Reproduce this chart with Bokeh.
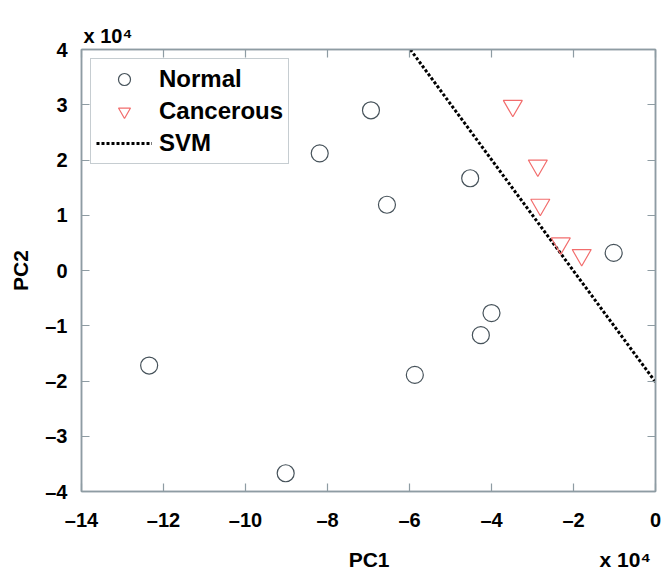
from bokeh.plotting import figure
from bokeh.models import Range1d, LinearAxis, FixedTicker, Legend, LegendItem
from bokeh.embed import file_html
from bokeh.resources import INLINE

# Data (units of 10^4)
normal_pc1 = [-6.94, -8.19, -6.55, -4.52, -1.02, -4.00, -4.26, -5.87, -12.35, -9.02]
normal_pc2 = [2.90, 2.12, 1.19, 1.67, 0.32, -0.77, -1.17, -1.89, -1.72, -3.67]
cancer_pc1 = [-3.48, -2.87, -2.81, -2.31, -1.80]
cancer_pc2 = [2.98, 1.90, 1.19, 0.49, 0.28]
svm_pc1 = [-5.98, 0.0]
svm_pc2 = [4.0, -2.02]
x_ticks = [-14, -12, -10, -8, -6, -4, -2, 0]
y_ticks = [-4, -3, -2, -1, 0, 1, 2, 3, 4]
x_tick_labels = ["\u201314", "\u201312", "\u201310", "\u20138", "\u20136", "\u20134", "\u20132", "0"]
y_tick_labels = ["\u20134", "\u20133", "\u20132", "\u20131", "0", "1", "2", "3", "4"]
x_label = "PC1"
y_label = "PC2"
exponent_text = "x 10\u2074"

FONT = "Liberation Sans"
GRAY = "#8e9ca3"
NB = "\u00a0"

p = figure(width=662, height=573, output_backend="svg", toolbar_location=None,
           x_range=Range1d(-14, 0), y_range=Range1d(-4, 4),
           min_border_left=81, min_border_right=7, min_border_top=49, min_border_bottom=79)
p.grid.visible = False
p.outline_line_color = GRAY
p.outline_line_width = 1.5
p.background_fill_color = "white"
p.border_fill_color = "white"

# top-left exponent as the title
p.title.text = exponent_text
p.title.align = "left"
p.title.offset = 2
p.title.text_font = FONT
p.title.text_font_style = "bold"
p.title.text_font_size = "20px"
p.title.text_color = "black"
p.title.standoff = 5


def style_axis(ax, ticks, labels, show_labels=True):
    ax.ticker = FixedTicker(ticks=ticks)
    if show_labels:
        ax.major_label_overrides = {t: l for t, l in zip(ticks, labels)}
    else:
        ax.major_label_overrides = {t: "" for t in ticks}
    ax.minor_tick_line_color = None
    ax.major_tick_in = 8
    ax.major_tick_out = 0
    ax.major_tick_line_color = GRAY
    ax.major_tick_line_width = 1.2
    ax.axis_line_color = GRAY
    ax.axis_line_width = 1.5
    ax.major_label_text_font = FONT
    ax.major_label_text_font_style = "bold"
    ax.major_label_text_font_size = "20px"
    ax.major_label_text_color = "black"
    ax.axis_label_text_font = FONT
    ax.axis_label_text_font_style = "bold"
    ax.axis_label_text_font_size = "21px"
    ax.axis_label_text_color = "black"


xa = p.xaxis[0]
ya = p.yaxis[0]
style_axis(xa, x_ticks, x_tick_labels)
style_axis(ya, y_ticks, y_tick_labels)
# PC1 centred under the frame, exponent at the far right on the same row
xa.axis_label = NB * 45 + x_label + NB * 36 + exponent_text
ya.axis_label = y_label
xa.major_label_standoff = 17
ya.major_label_standoff = 14
xa.axis_label_standoff = 14
ya.axis_label_standoff = 10

top_ax = LinearAxis()
right_ax = LinearAxis()
style_axis(top_ax, x_ticks, x_tick_labels, show_labels=False)
style_axis(right_ax, y_ticks, y_tick_labels, show_labels=False)
top_ax.major_label_standoff = 0
right_ax.major_label_standoff = 0
p.add_layout(top_ax, "above")
p.add_layout(right_ax, "right")

r_svm = p.line(svm_pc1, svm_pc2, line_color="black", line_width=3, line_dash="3 2")
r_norm = p.scatter(normal_pc1, normal_pc2, marker="circle", size=17, fill_color=None,
                   line_color="#46525a", line_width=1.2)
r_canc = p.scatter(cancer_pc1, cancer_pc2, marker="inverted_triangle", size=19, fill_color=None,
                   line_color="#f26d6d", line_width=1.2)

legend = Legend(items=[LegendItem(label="Normal", renderers=[r_norm]),
                       LegendItem(label="Cancerous", renderers=[r_canc]),
                       LegendItem(label="SVM", renderers=[r_svm])],
                location="top_left")
legend.margin = 9
legend.padding = 5
legend.spacing = 2
legend.label_height = 30
legend.glyph_height = 30
legend.glyph_width = 56
legend.label_standoff = 7
legend.label_text_font = FONT
legend.label_text_font_style = "bold"
legend.label_text_font_size = "24px"
legend.label_text_color = "black"
legend.border_line_color = GRAY
legend.border_line_width = 1.5
legend.background_fill_alpha = 1.0
p.add_layout(legend)

open("out.html", "w").write(file_html(p, INLINE))
